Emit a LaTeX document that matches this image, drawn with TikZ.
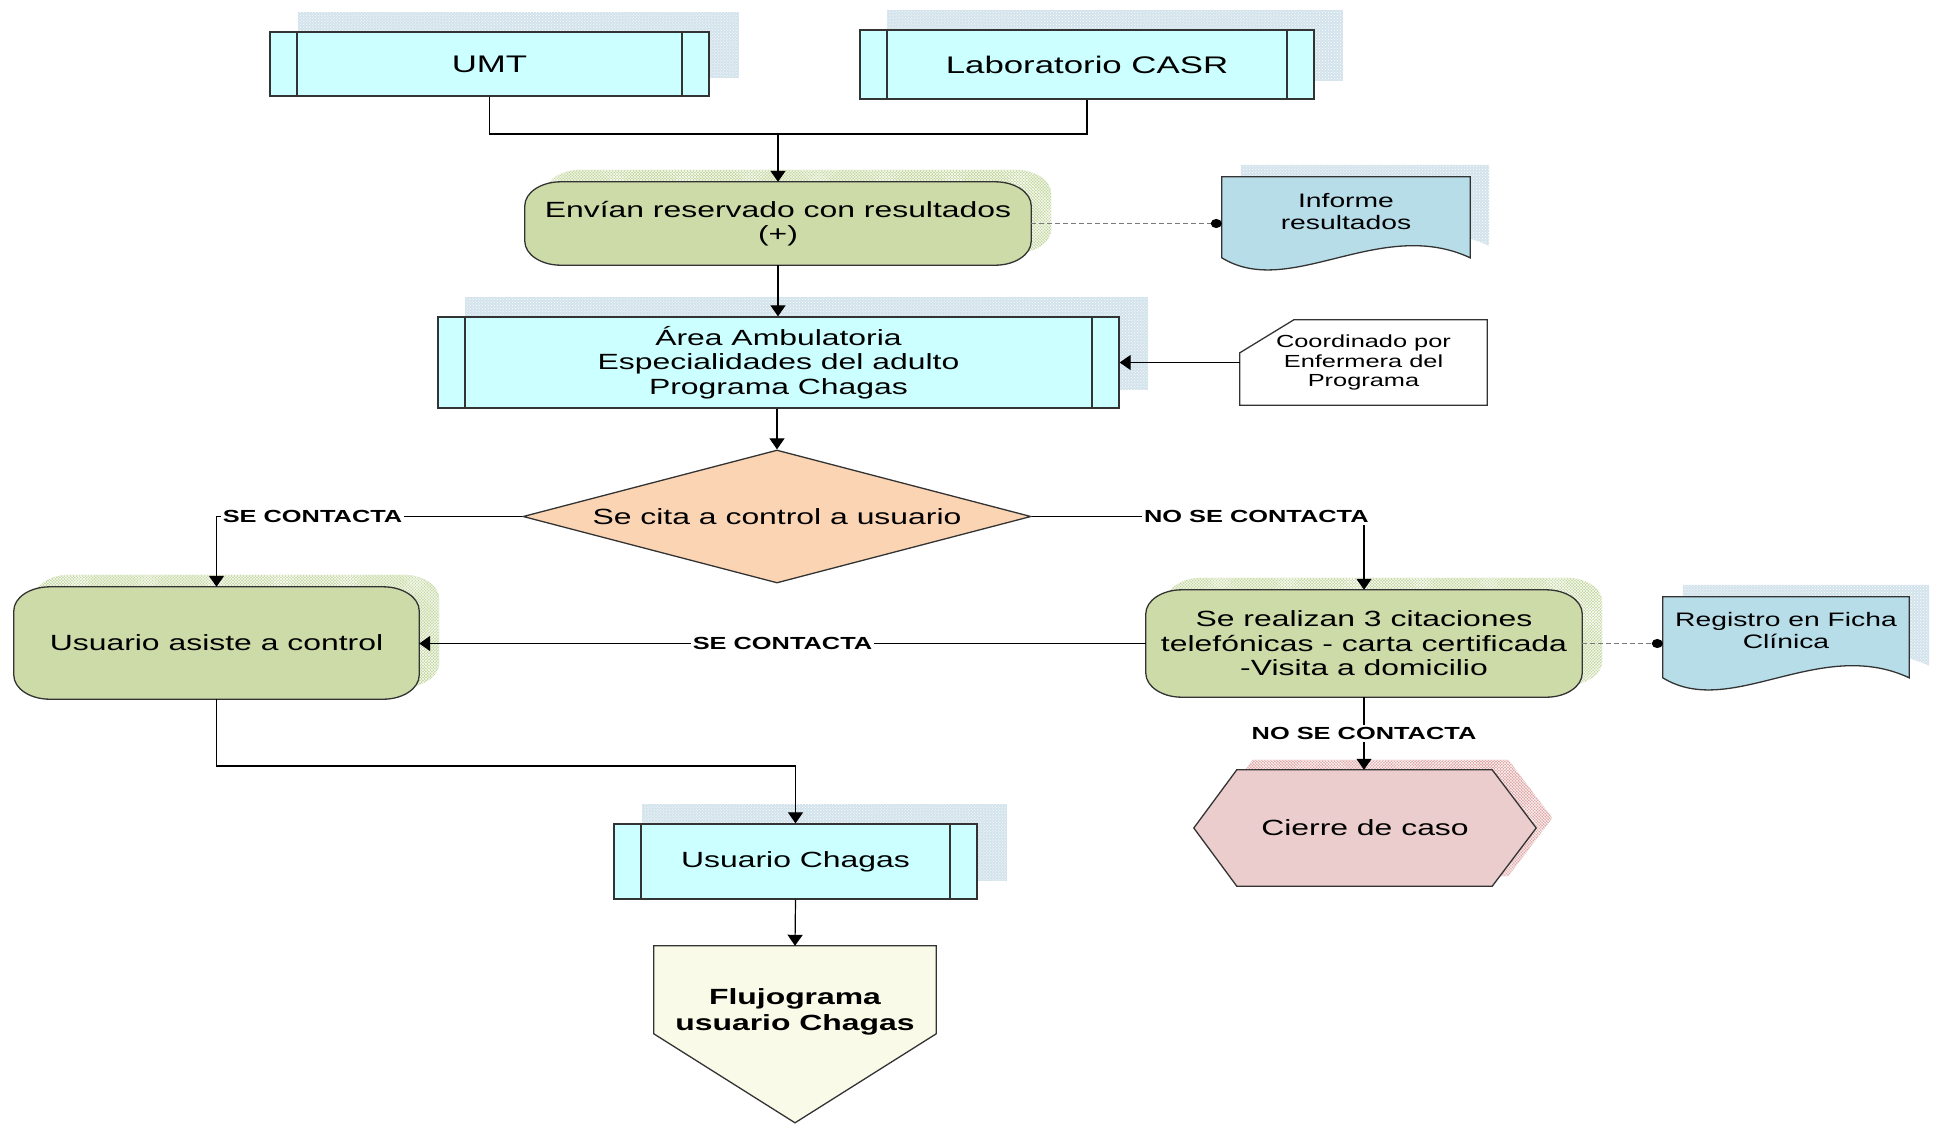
\documentclass[tikz,border=0pt]{standalone}
\usepackage{fontspec}
\setmainfont{Liberation Sans}[FakeStretch=1.45]
\usetikzlibrary{arrows.meta,calc,patterns,shapes.geometric}
\pgfdeclarelayer{bg}
\pgfsetlayers{bg,main}
\definecolor{cyanbox}{HTML}{CCFFFF}
\definecolor{greenbox}{HTML}{CCDBA8}
\definecolor{bluedoc}{HTML}{B7DDE8}
\definecolor{peach}{HTML}{FBD4B4}
\definecolor{pinkbox}{HTML}{EBCDCD}
\definecolor{paleyel}{HTML}{F9FBE8}
\definecolor{shblue}{HTML}{D3E3EC}
\definecolor{shgreen}{HTML}{C2D69C}
\definecolor{shpink}{HTML}{E0A4A4}
\definecolor{edge}{HTML}{333333}
\definecolor{dashc}{HTML}{7A7A7A}

\newcommand\ellbox[3]{($(#1.north west)+(#2,0)$) -- ($(#1.north east)+(-#2,0)$) arc[start angle=90,end angle=0,x radius=#2bp,y radius=#3bp] -- ($(#1.south east)+(0,-#3)$) arc[start angle=0,end angle=-90,x radius=#2bp,y radius=#3bp] -- ($(#1.south west)+(#2,0)$) arc[start angle=270,end angle=180,x radius=#2bp,y radius=#3bp] -- ($(#1.north west)+(0,#3)$) arc[start angle=180,end angle=90,x radius=#2bp,y radius=#3bp] -- cycle}
\newcommand\docpath[2]{(#1.north west) -- (#1.north east) -- ($(#1.north east)+(0,#2)$) .. controls +(-90,-42) and +(68,42) .. ($(#1.north west)+(0,#2)$) -- cycle}
\newcommand\hexpath[3]{(#1.west) -- ($(#1.north west)+(#2,0)$) -- ($(#1.north east)+(-#3,0)$) -- (#1.east) -- ($(#1.south east)+(-#3,0)$) -- ($(#1.south west)+(#2,0)$) -- cycle}
\newcommand\offpath[1]{(#1.north west) -- (#1.north east) -- ($(#1.north east)+(0,88)$) -- ($(#1.north)+(0,177)$) -- ($(#1.north west)+(0,88)$) -- cycle}
\newcommand\shad[5]{\fill[#1,transform canvas={shift={(#3bp,#4bp)}}] #5; \fill[pattern=#2,pattern color=white,transform canvas={shift={(#3bp,#4bp)}}] #5;}

\tikzset{
  base/.style={align=center, inner sep=0pt, font=\fontsize{22bp}{24.5bp}\selectfont},
  bigfont/.style={font=\fontsize{24bp}{27bp}\selectfont},
  small20/.style={font=\fontsize{19.5bp}{22bp}\selectfont},
  small17/.style={font=\fontsize{17.5bp}{19.5bp}\selectfont},
  boldtxt/.style={font=\bfseries\fontsize{22bp}{25.5bp}\selectfont},
  procbox/.style={base, draw=edge, line width=1.3bp, fill=cyanbox,
    path picture={\draw[edge,line width=1.3bp]
      ([xshift=27bp]path picture bounding box.north west) -- ([xshift=27bp]path picture bounding box.south west)
      ([xshift=-27bp]path picture bounding box.north east) -- ([xshift=-27bp]path picture bounding box.south east);}},
  txt/.style={base, draw=none},
  outl/.style={draw=edge, line width=1.3bp},
  conn/.style={draw=black, line width=1.2bp},
  arr/.style={conn, -{Triangle[length=11bp,width=15bp]}},
  dashline/.style={draw=dashc, line width=1.5bp, dash pattern=on 5bp off 3bp, -{Circle[length=11bp,width=9bp,color=black]}},
  lbl/.style={fill=white, inner sep=2bp, font=\bfseries\fontsize{17.5bp}{20bp}\selectfont}
}

\begin{document}
\begin{tikzpicture}[x=1bp,y=-1bp]
\useasboundingbox (0,0) rectangle (1934,1132);
\begin{pgfonlayer}{bg}
\fill[white] (0,0) rectangle (1934,1132);
\end{pgfonlayer}

% nodes
\node[procbox, bigfont, minimum width=439bp, minimum height=64bp] (umt) at (489.5,64) {UMT};
\node[procbox, bigfont, minimum width=454bp, minimum height=69bp] (lab) at (1087,64.5) {Laboratorio CASR};
\node[txt, minimum width=506bp, minimum height=83bp] (env) at (778,223.5) {Envían reservado con resultados\\(+)};
\node[txt, small20, minimum width=248bp, minimum height=70bp] (inf) at (1346,212) {Informe\\resultados};
\node[procbox, minimum width=681bp, minimum height=91bp] (area) at (778.5,362.5) {Área Ambulatoria\\Especialidades del adulto\\Programa Chagas};
\node[txt, small17, minimum width=247bp, minimum height=85bp] (crd) at (1363.5,362.5) {Coordinado por\\Enfermera del\\Programa};
\node[diamond, base, shape aspect=3.82, minimum width=508bp, minimum height=133bp, draw=edge, line width=1.3bp, fill=peach] (dia) at (777,516.5) {Se cita a control a usuario};
\node[txt, minimum width=405bp, minimum height=112bp] (usu) at (216.5,643) {Usuario asiste a control};
\node[txt, minimum width=436bp, minimum height=107bp] (rea) at (1364,643.5) {Se realizan 3 citaciones\\telefónicas - carta certificada\\-Visita a domicilio};
\node[txt, small20, minimum width=246bp, minimum height=68bp] (reg) at (1786,631) {Registro en Ficha\\Clínica};
\node[txt, minimum width=342bp, minimum height=116bp] (cie) at (1365,828) {Cierre de caso};
\node[procbox, minimum width=363bp, minimum height=75bp] (uch) at (795.5,861.5) {Usuario Chagas};
\node[txt, boldtxt, minimum width=282bp, minimum height=132bp] (flu) at (795,1012) {Flujograma\\usuario Chagas};

% shadows and shapes on background
\begin{pgfonlayer}{bg}
\shad{shblue}{crosshatch dots}{29}{19}{(umt.north west) rectangle (umt.south east)}
\shad{shblue}{crosshatch dots}{28}{19}{(lab.north west) rectangle (lab.south east)}
\shad{shblue}{crosshatch dots}{28}{19}{(area.north west) rectangle (area.south east)}
\shad{shblue}{crosshatch dots}{29}{19}{(uch.north west) rectangle (uch.south east)}
\shad{shgreen}{crosshatch}{20}{12}{\ellbox{env}{36}{24}}
\shad{shgreen}{crosshatch}{20}{12}{\ellbox{usu}{36}{24}}
\shad{shgreen}{crosshatch}{20}{12}{\ellbox{rea}{36}{24}}
\shad{shblue}{crosshatch dots}{19}{12}{\docpath{inf}{81}}
\shad{shblue}{crosshatch dots}{20}{12}{\docpath{reg}{81}}
\shad{shpink}{crosshatch}{16}{10}{\hexpath{cie}{43}{44}}

\draw[outl, fill=greenbox] \ellbox{env}{36}{24};
\draw[outl, fill=greenbox] \ellbox{usu}{36}{24};
\draw[outl, fill=greenbox] \ellbox{rea}{36}{24};
\draw[outl, fill=bluedoc] \docpath{inf}{81};
\draw[outl, fill=bluedoc] \docpath{reg}{81};
\draw[outl, fill=pinkbox] \hexpath{cie}{43}{44};
\draw[outl, fill=paleyel] \offpath{flu};
\draw[outl, fill=white] (crd.north east) -- (crd.south east) -- (crd.south west) -- ($(crd.north west)+(0,33)$) -- ($(crd.north west)+(54,0)$) -- cycle;
\end{pgfonlayer}

% connectors
\coordinate (j) at (778,134);
\coordinate (bend) at (500,766);
\draw[conn] (umt.south) |- (j) -| (lab.south);
\draw[arr] (j) -- (env.north);
\draw[dashline] (env.east) -- (env.east -| inf.west);
\draw[arr] (env.south) -- (env.south |- area.north);
\draw[arr] (crd.west) -- (crd.west -| area.east);
\draw[arr] (dia.north |- area.south) -- (dia.north);
\draw[arr] (dia.west) -| node[lbl, pos=0.343] {SE CONTACTA} (usu.north);
\draw[arr] (dia.east) -| node[lbl, pos=0.338] {NO SE CONTACTA} (rea.north);
\draw[arr] (rea.west) -- node[lbl] {SE CONTACTA} (rea.west -| usu.east);
\draw[dashline] (rea.east) -- (rea.east -| reg.west);
\draw[arr] (rea.south) -- node[lbl] {NO SE CONTACTA} (rea.south |- cie.north);
\draw[arr] (usu.south) |- (bend) -| (uch.north);
\draw[arr] (uch.south) -- (flu.north);
\end{tikzpicture}
\end{document}
